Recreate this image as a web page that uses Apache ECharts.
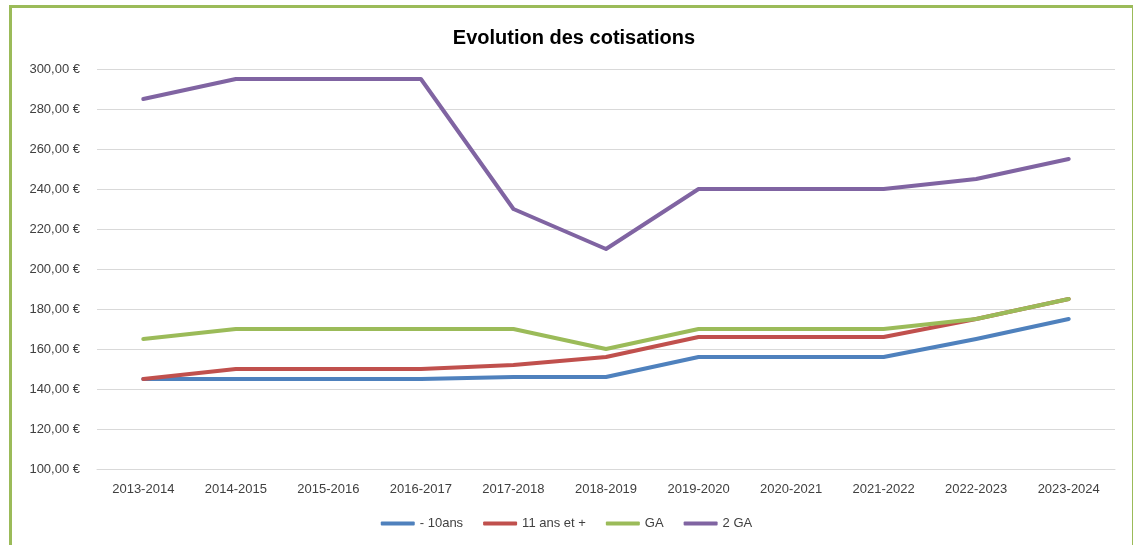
<!DOCTYPE html>
<html>
<head>
<meta charset="utf-8">
<script src="https://cdn.jsdelivr.net/npm/echarts@6/dist/echarts.min.js"></script>
<style>
    html, body { margin: 0; padding: 0; background: #fff; }
    #frame {
        position: absolute; left: 9px; top: 5px; width: 1120px; height: 560px;
        border-left: 3px solid #9bbb59; border-top: 3px solid #9bbb59; border-right: 1px solid #9bbb59;
    }
    #cn1 { position: absolute; left: 0; top: 0; width: 1133px; height: 545px; }
</style>
</head>
<body>
<div id="frame"></div>
<div id="cn1"></div>
<script>
'use strict';

const arrSaison = ['2013-2014', '2014-2015', '2015-2016', '2016-2017', '2017-2018', '2018-2019',
    '2019-2020', '2020-2021', '2021-2022', '2022-2023', '2023-2024'];
const arrMoins10 = [145, 145, 145, 145, 146, 146, 156, 156, 156, 165, 175];
const arr11Plus = [145, 150, 150, 150, 152, 156, 166, 166, 166, 175, 185];
const arrGA = [165, 170, 170, 170, 170, 160, 170, 170, 170, 175, 185];
const arr2GA = [285, 295, 295, 295, 230, 210, 240, 240, 240, 245, 255];

const arrNames = ['- 10ans', '11 ans et +', 'GA', '2 GA'];
const arrColors = ['#4f81bd', '#c0504d', '#9bbb59', '#8064a2'];
const arrData = [arrMoins10, arr11Plus, arrGA, arr2GA];

const fontFam = '"Liberation Sans", Arial, sans-serif';

// create echarts instance
const echartsLine = echarts.init(cn1);

const optionLine = {
    animation: false,
    title: {
        text: 'Evolution des cotisations',
        left: 569,
        textAlign: 'center',
        top: 23,
        textStyle: {
            fontFamily: fontFam,
            fontSize: 20,
            fontWeight: 'bold',
            color: '#000'
        }
    },
    legend: {
        data: arrNames,
        bottom: 10,
        left: 'center',
        itemWidth: 34,
        itemHeight: 4,
        itemGap: 20,
        icon: 'roundRect',
        textStyle: {
            fontFamily: fontFam,
            fontSize: 13,
            color: '#404040'
        }
    },
    grid: {
        left: 97,
        right: 18,
        top: 69,
        bottom: 76
    },
    xAxis: [{
        type: 'category',
        boundaryGap: true,
        data: arrSaison,
        axisLine: { lineStyle: { color: '#d9d9d9', width: 1 } },
        axisTick: { show: false },
        axisLabel: {
            fontFamily: fontFam,
            fontSize: 13,
            color: '#404040',
            margin: 14
        }
    }],
    yAxis: [{
        type: 'value',
        min: 100,
        max: 300,
        interval: 20,
        axisLine: { show: false },
        axisTick: { show: false },
        splitLine: { lineStyle: { color: '#d9d9d9', width: 1 } },
        axisLabel: {
            fontFamily: fontFam,
            fontSize: 13,
            color: '#404040',
            margin: 17,
            formatter: (v) => v.toFixed(2).replace('.', ',') + '\u00a0€'
        }
    }],
    series: arrNames.map((strName, i) => {
        return {
            name: strName,
            type: 'line',
            symbol: 'none',
            data: arrData[i],
            itemStyle: { color: arrColors[i] },
            lineStyle: { color: arrColors[i], width: 4, cap: 'round', join: 'round' }
        };
    })
};

// draw a chart
echartsLine.setOption(optionLine);
</script>
</body>
</html>
